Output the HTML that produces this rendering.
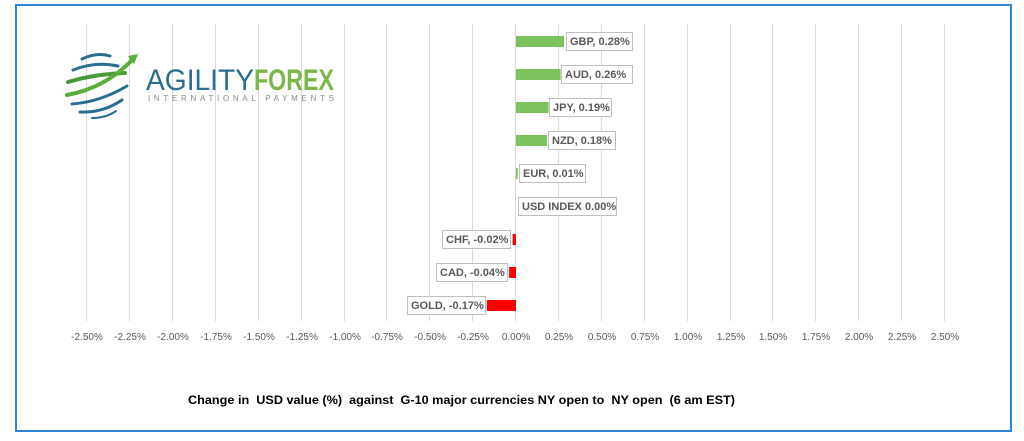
<!DOCTYPE html>
<html><head><style>
html,body{margin:0;padding:0;background:#fff;}
svg{display:block;}
text{font-family:"Liberation Sans",sans-serif;}
</style></head><body>
<svg width="1024" height="441" xmlns="http://www.w3.org/2000/svg">
<rect x="16" y="5" width="995" height="426" fill="#fff" stroke="#2e86d6" stroke-width="2"/>
<g stroke="#d9d9d9" stroke-width="1">
<line x1="86.5" y1="24" x2="86.5" y2="321"/><line x1="129.5" y1="24" x2="129.5" y2="321"/><line x1="172.5" y1="24" x2="172.5" y2="321"/><line x1="215.5" y1="24" x2="215.5" y2="321"/><line x1="258.5" y1="24" x2="258.5" y2="321"/><line x1="301.5" y1="24" x2="301.5" y2="321"/><line x1="344.5" y1="24" x2="344.5" y2="321"/><line x1="386.5" y1="24" x2="386.5" y2="321"/><line x1="429.5" y1="24" x2="429.5" y2="321"/><line x1="472.5" y1="24" x2="472.5" y2="321"/><line x1="515.5" y1="24" x2="515.5" y2="321"/><line x1="558.5" y1="24" x2="558.5" y2="321"/><line x1="601.5" y1="24" x2="601.5" y2="321"/><line x1="644.5" y1="24" x2="644.5" y2="321"/><line x1="687.5" y1="24" x2="687.5" y2="321"/><line x1="730.5" y1="24" x2="730.5" y2="321"/><line x1="772.5" y1="24" x2="772.5" y2="321"/><line x1="815.5" y1="24" x2="815.5" y2="321"/><line x1="858.5" y1="24" x2="858.5" y2="321"/><line x1="901.5" y1="24" x2="901.5" y2="321"/><line x1="944.5" y1="24" x2="944.5" y2="321"/>
</g>
<g font-size="10" fill="#595959" text-anchor="middle">
<text x="87" y="340">-2.50%</text><text x="130" y="340">-2.25%</text><text x="173" y="340">-2.00%</text><text x="216" y="340">-1.75%</text><text x="259" y="340">-1.50%</text><text x="302" y="340">-1.25%</text><text x="345" y="340">-1.00%</text><text x="387" y="340">-0.75%</text><text x="430" y="340">-0.50%</text><text x="473" y="340">-0.25%</text><text x="516" y="340">0.00%</text><text x="559" y="340">0.25%</text><text x="602" y="340">0.50%</text><text x="645" y="340">0.75%</text><text x="688" y="340">1.00%</text><text x="731" y="340">1.25%</text><text x="773" y="340">1.50%</text><text x="816" y="340">1.75%</text><text x="859" y="340">2.00%</text><text x="902" y="340">2.25%</text><text x="945" y="340">2.50%</text>
</g>
<!-- logo -->
<g>
<g fill="none" stroke-linecap="round">
<path d="M82 59 Q97 52 110 56" stroke="#2a6e8f" stroke-width="3"/>
<path d="M73 70 Q95 61 118 66" stroke="#2a6e8f" stroke-width="3"/>
<path d="M68 82 Q95 74 125 73" stroke="#4a9a3a" stroke-width="4"/>
<path d="M67 95 Q105 88 132 60" stroke="#5aae3a" stroke-width="4"/>
<path d="M72 104 Q100 102 127 86" stroke="#2a6e8f" stroke-width="3"/>
<path d="M80 112 Q103 113 122 100" stroke="#2a6e8f" stroke-width="3"/>
<path d="M92 118 Q106 118 116 111" stroke="#2a6e8f" stroke-width="2"/>
</g>
<polygon points="128,56 138,54 134,64" fill="#5aae3a"/>
<text x="146" y="90" font-size="30" fill="#2a6e8f" textLength="108" lengthAdjust="spacingAndGlyphs">AGILITY</text>
<text x="254" y="90" font-size="30" font-weight="bold" fill="#7ab648" textLength="80" lengthAdjust="spacingAndGlyphs">FOREX</text>
<text x="148" y="101" font-size="8" fill="#8a8a8a" textLength="186" lengthAdjust="spacing">INTERNATIONAL PAYMENTS</text>
</g>
<!-- bars -->
<g fill="#7cc35e">
<rect x="516" y="36" width="48" height="11"/>
<rect x="516" y="69" width="44.6" height="11"/>
<rect x="516" y="102" width="32.6" height="11"/>
<rect x="516" y="135" width="30.9" height="11"/>
<rect x="516" y="168" width="1.8" height="11"/>
</g>
<g fill="#ff0000">
<rect x="512.6" y="234" width="3.4" height="11"/>
<rect x="509.1" y="267" width="6.9" height="11"/>
<rect x="486.8" y="300" width="29.2" height="11"/>
</g>
<g fill="#fff" stroke="#bfbfbf" stroke-width="1">
<rect x="566.5" y="32.5" width="66" height="18"/>
<rect x="561.5" y="65.5" width="71" height="18"/>
<rect x="549.5" y="98.5" width="62" height="18"/>
<rect x="548.5" y="131.5" width="67" height="18"/>
<rect x="519.5" y="164.5" width="66" height="18"/>
<rect x="518.5" y="197.5" width="98" height="18"/>
<rect x="442.5" y="230.5" width="68" height="18"/>
<rect x="436.5" y="263.5" width="71" height="18"/>
<rect x="407.5" y="296.5" width="78" height="18"/>
</g>
<g font-size="11" font-weight="bold" fill="#595959">
<text x="570" y="45">GBP, 0.28%</text>
<text x="565" y="78">AUD, 0.26%</text>
<text x="553" y="111">JPY, 0.19%</text>
<text x="552" y="144">NZD, 0.18%</text>
<text x="523" y="177">EUR, 0.01%</text>
<text x="522" y="210">USD INDEX 0.00%</text>
<text x="446" y="243">CHF, -0.02%</text>
<text x="440" y="276">CAD, -0.04%</text>
<text x="411" y="309">GOLD, -0.17%</text>
</g>
<text x="188" y="404" font-size="11.5" font-weight="bold" fill="#000" style="white-space:pre" xml:space="preserve" textLength="547" lengthAdjust="spacingAndGlyphs">Change in&#160; USD value (%)&#160; against&#160; G-10 major currencies NY open to&#160; NY open&#160; (6 am EST)</text>
</svg>
</body></html>
